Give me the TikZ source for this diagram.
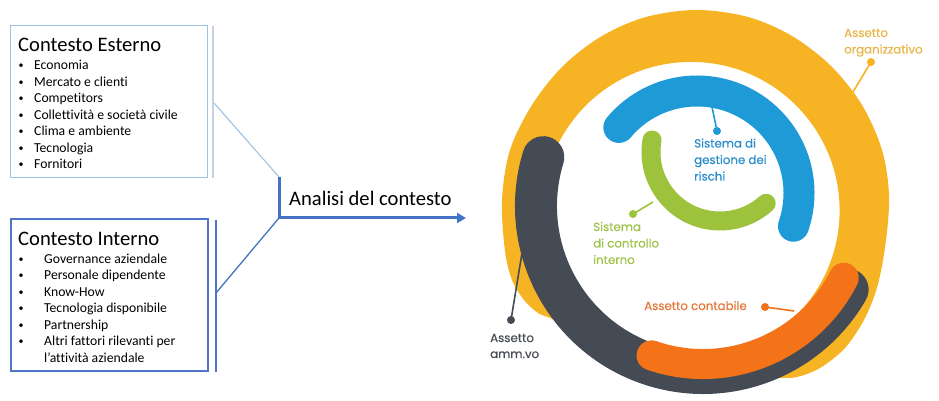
\documentclass[tikz,border=0pt]{standalone}
\usepackage{fontspec}
\setmainfont{Carlito}[Ligatures=CommonOff]
\newfontfamily\popfont{Poppins}[FakeBold=0.45]
\usetikzlibrary{arrows.meta,calc}
\definecolor{framelight}{HTML}{9DC3E6}
\definecolor{framelightline}{HTML}{C3D3E3}
\definecolor{framedark}{HTML}{4F76C6}
\definecolor{arrowblue}{HTML}{4472C4}
\definecolor{ringyellow}{HTML}{F6B424}
\definecolor{ringgray}{HTML}{454B55}
\definecolor{ringorange}{HTML}{F47318}
\definecolor{ringblue}{HTML}{1E9AD6}
\definecolor{ringgreen}{HTML}{9DC23B}
\definecolor{txtyellow}{HTML}{E8B64A}
\definecolor{txtblue}{HTML}{2B8ECB}
\definecolor{txtgreen}{HTML}{9EC54A}
\definecolor{txtorange}{HTML}{E5783A}
\definecolor{txtgray}{HTML}{4A4F57}
\begin{document}
\begin{tikzpicture}[x=1pt,y=1pt,
  frameext/.style={draw=framelight, line width=1.3pt, minimum width=197pt, minimum height=152pt, anchor=south west, inner sep=0pt},
  frameint/.style={draw=framedark, line width=1.6pt, minimum width=197pt, minimum height=152pt, anchor=south west, inner sep=0pt},
  ttl/.style={anchor=base west, inner sep=0pt, font=\fontsize{20.6}{24}\selectfont},
  itm/.style={anchor=base west, inner sep=0pt, font=\fontsize{13.7}{16}\selectfont},
  bul/.style={anchor=base, inner sep=0pt, font=\fontsize{10}{12}\selectfont},
  lbl/.style={anchor=base west, inner sep=0pt, font=\popfont\fontsize{11.8}{14}\selectfont},
  ring/.style={line cap=round},
  dot/.style={circle, inner sep=0pt, minimum size=8pt},
  lead/.style={line width=1.6pt}
]
\useasboundingbox (0,0) rectangle (939,401);
\fill[white] (0,0) rectangle (939,401);

% ---------------- left part ----------------
\node[frameext] (ext) at (10,223) {};
\node[frameint] (int) at (10,29) {};
\coordinate (v1t) at (213,375);
\coordinate (v1b) at (213,223);
\coordinate (v1m) at (214,298);
\coordinate (v2t) at (216,181);
\coordinate (v2b) at (216,29);
\coordinate (v2m) at (216,108);
\coordinate (j1) at (279,224);
\coordinate (j2) at (279,183);
\coordinate (tip) at (466,183);
\draw[framelightline, line width=1.3pt] (v1t) -- (v1b);
\draw[framedark, line width=1.4pt] (v2t) -- (v2b);
\draw[framelight, line width=1.1pt] (v1m) -- (j1);
\draw[arrowblue, line width=1.3pt] (v2m) -- (j2);
\draw[arrowblue, line width=3pt] (j1) -- (j2);
\draw[arrowblue, line width=3pt, -{Triangle[length=9pt,width=10pt]}] ([xshift=-1.5pt]j2) -- (tip);
\node[anchor=west, inner sep=0pt, font=\fontsize{20.6}{24}\selectfont] (analisi) at (289,203) {Analisi del contesto};

\node[ttl] (t1) at (18,349.3) {Contesto Esterno};
\node[bul] (b11) at (21,332) {\textbullet};   \node[itm] (e1) at (34,331) {Economia};
\node[bul] (b12) at (21,315.5) {\textbullet}; \node[itm] (e2) at (34,314.5) {Mercato e clienti};
\node[bul] (b13) at (21,299) {\textbullet};   \node[itm] (e3) at (34,298) {Competitors};
\node[bul] (b14) at (21,282.5) {\textbullet}; \node[itm] (e4) at (34,281.5) {Collettività e società civile};
\node[bul] (b15) at (21,266) {\textbullet};   \node[itm] (e5) at (34,265) {Clima e ambiente};
\node[bul] (b16) at (21,249.5) {\textbullet}; \node[itm] (e6) at (34,248.5) {Tecnologia};
\node[bul] (b17) at (21,233) {\textbullet};   \node[itm] (e7) at (34,232) {Fornitori};

\node[ttl] (t2) at (18,155) {Contesto Interno};
\node[bul] (b21) at (21,138.7) {\textbullet}; \node[itm] (i1) at (44,137.7) {Governance aziendale};
\node[bul] (b22) at (21,122.2) {\textbullet}; \node[itm] (i2) at (44,121.2) {Personale dipendente};
\node[bul] (b23) at (21,105.7) {\textbullet}; \node[itm] (i3) at (44,104.7) {Know-How};
\node[bul] (b24) at (21,89.2) {\textbullet};  \node[itm] (i4) at (44,88.2) {Tecnologia disponibile};
\node[bul] (b25) at (21,72.7) {\textbullet};  \node[itm] (i5) at (44,71.7) {Partnership};
\node[bul] (b26) at (21,56.2) {\textbullet};  \node[itm] (i6) at (44,55.2) {Altri fattori rilevanti per};
\node[itm] (i7) at (44,38.7) {l’attività aziendale};

% ---------------- rings ----------------
\coordinate (Yc) at (691,190.5);
\coordinate (G) at (703,195);
\coordinate (B) at (697,208);
\coordinate (Gr) at (720,249);

\fill[ringyellow, even odd rule] plot[smooth cycle, tension=0.55] coordinates {
 (552,82) (538,88) (524,101) (512,121) (505,150) (502,201) (510,251) (532,296)
 (563,335) (602,365) (646,384) (697,391) (748,384) (792,365) (831,335) (862,296)
 (882,251) (889,206) (886,161) (878,117) (865,83) (845,53) (820,33) (797,24)
 (780,23) (740,21) (680,25) (620,43) (585,63)}
 (Yc) circle[radius=148.6];

\draw[ring, ringgray, line width=42pt] ([shift={(163:167)}]G) arc[start angle=163, end angle=330, radius=167];
\draw[ring, ringorange, line width=30pt] ([shift={(251:158)}]G) arc[start angle=251, end angle=333, radius=158];
\draw[ring, ringblue, line width=31pt] ([shift={(140:102)}]B) arc[start angle=140, end angle=-19, radius=102];
\draw[ring, ringgreen, line width=19pt] ([shift={(170:69)}]Gr) arc[start angle=170, end angle=312, radius=69];

% ---------------- leaders ----------------
\node[dot, fill=ringyellow] (dorg) at (871,339) {};
\coordinate (eorg) at (853,309);
\draw[lead, ringyellow] (dorg.center) -- (eorg);
\node[dot, fill=ringblue] (dblue) at (717,270) {};
\coordinate (eblue) at (712,294);
\draw[lead, ringblue] (dblue.center) -- (eblue);
\node[dot, fill=ringgreen] (dgreen) at (633,187) {};
\coordinate (egreen) at (653,199);
\draw[lead, ringgreen] (dgreen.center) -- (egreen);
\node[dot, fill=ringorange] (dorange) at (765,94) {};
\coordinate (eorange) at (794,90);
\draw[lead, ringorange] (dorange.center) -- (eorange);
\node[dot, fill=ringgray] (dgray) at (511,81) {};
\coordinate (egray) at (522,148);
\draw[lead, ringgray] (dgray.center) -- (egray);

% ---------------- labels ----------------
\node[lbl, txtyellow] (lo1) at (844,364) {Assetto};
\node[lbl, txtyellow] (lo2) at (844,347.5) {organizzativo};
\node[lbl, txtblue] (lb1) at (694,253.5) {Sistema di};
\node[lbl, txtblue] (lb2) at (694,237) {gestione dei};
\node[lbl, txtblue] (lb3) at (694,220.5) {rischi};
\node[lbl, txtgreen] (lg1) at (593,170) {Sistema};
\node[lbl, txtgreen] (lg2) at (593,153.5) {di controllo};
\node[lbl, txtgreen] (lg3) at (593,137) {interno};
\node[lbl, txtorange] (lc) at (644,91) {Assetto contabile};
\node[lbl, txtgray] (la1) at (490,59) {Assetto};
\node[lbl, txtgray] (la2) at (490,43) {amm.vo};
\end{tikzpicture}
\end{document}
